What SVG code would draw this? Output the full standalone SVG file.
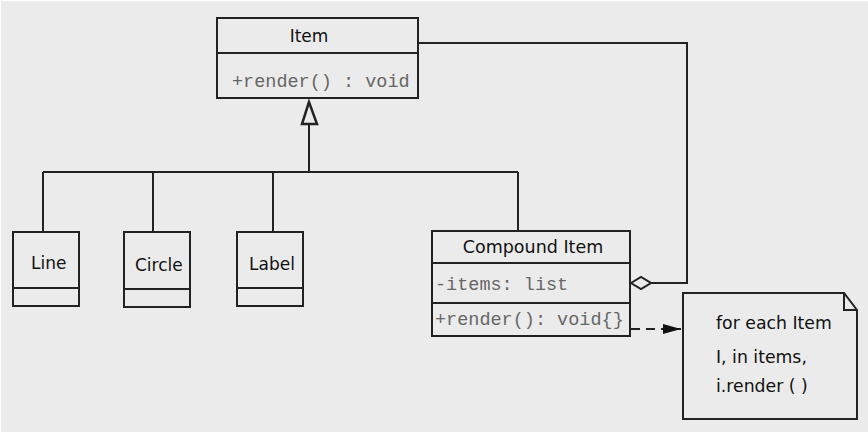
<svg xmlns="http://www.w3.org/2000/svg" width="868" height="433" viewBox="0 0 868 433">
<style>
.box{fill:#ebebeb;stroke:#222;stroke-width:2}
.ln{fill:none;stroke:#222;stroke-width:2}
.t{font-family:"DejaVu Sans",sans-serif;font-size:17px;fill:#111}
.m{font-family:"Liberation Mono",monospace;font-size:18.5px;fill:#666}
.n{font-family:"DejaVu Sans",sans-serif;font-size:17.3px;fill:#111}
</style>
<defs>
<marker id="arr" markerWidth="18" markerHeight="10" refX="18" refY="5" orient="auto" markerUnits="userSpaceOnUse">
<path d="M0,0 L18,5 L0,10 Z" fill="#111"/>
</marker>
</defs>
<rect x="0" y="0" width="868" height="433" fill="#ffffff"/>
<rect x="1" y="1" width="867" height="431" fill="#ebebeb"/>
<g id="connectors">
<path class="ln" d="M309,124 L309,172 M43,172 L518,172 M43,172 L43,232 M153,172 L153,232 M273,172 L273,232 M518,172 L518,231"/>
<path d="M309,102 L302,124 L317,124 Z" fill="#ebebeb" stroke="#222" stroke-width="2.5"/>
<path class="ln" d="M418,43 L687,43 L687,283 L651,283"/>
<path d="M631,283 L641,277 L651,283 L641,289 Z" fill="#ebebeb" stroke="#222" stroke-width="2"/>
<path class="ln" d="M631,329 L681,329" stroke-dasharray="9,6" marker-end="url(#arr)"/>
</g>
<g id="item">
<rect class="box" x="217" y="18" width="201" height="80"/>
<line class="ln" x1="217" y1="53" x2="418" y2="53"/>
<text class="t" x="309" y="42" text-anchor="middle">Item</text>
<text class="m" x="232" y="87">+render() : void</text>
</g>
<g id="line">
<rect class="box" x="13" y="232" width="66" height="74"/>
<line class="ln" x1="13" y1="288" x2="79" y2="288"/>
<text class="t" x="31" y="269">Line</text>
</g>
<g id="circle">
<rect class="box" x="124" y="232" width="66" height="75"/>
<line class="ln" x1="124" y1="289" x2="190" y2="289"/>
<text class="t" x="135" y="271">Circle</text>
</g>
<g id="label">
<rect class="box" x="237" y="232" width="66" height="74"/>
<line class="ln" x1="237" y1="288" x2="303" y2="288"/>
<text class="t" x="249" y="270">Label</text>
</g>
<g id="compound">
<rect class="box" x="432" y="231" width="198" height="105"/>
<line class="ln" x1="432" y1="263" x2="630" y2="263"/>
<line class="ln" x1="432" y1="303" x2="630" y2="303"/>
<text class="t" x="533" y="253" text-anchor="middle" style="font-size:17.5px">Compound Item</text>
<text class="m" x="435" y="290">-items: list</text>
<text class="m" x="435" y="325">+render(): void{}</text>
</g>
<g id="note">
<path class="box" d="M683,293 L844,293 L857,310 L857,419 L683,419 Z"/>
<path class="ln" d="M844,293 L844,310 L857,310"/>
<text class="n" x="716" y="329">for each Item</text>
<text class="n" x="716" y="363">I, in items,</text>
<text class="n" x="716" y="392">i.render ( )</text>
</g>
</svg>
